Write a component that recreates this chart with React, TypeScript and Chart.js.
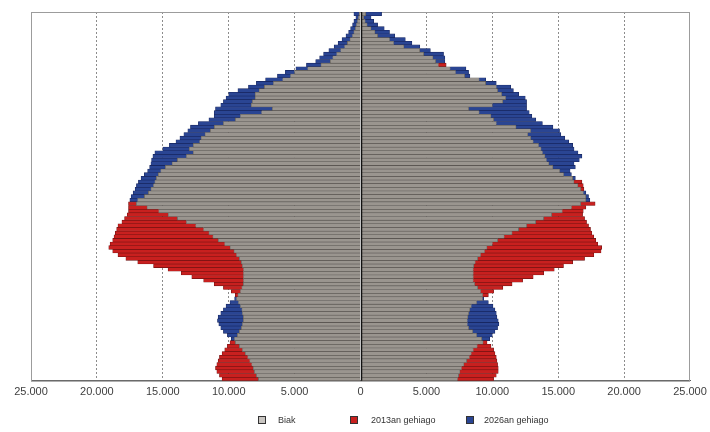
import React, { useEffect, useRef } from 'react';
import { Chart, registerables } from 'chart.js';

Chart.register(...registerables);

// Ages 0..100 (bottom to top)
const ages: string[] = Array.from({ length: 101 }, (_, i) => String(i));

const men2013 = [
  10500, 10700, 10900, 11000, 10900, 10800, 10700, 10500, 10300, 10100,
  9900, 9550, 9350, 9200, 9050, 8950, 8900, 8900, 8950, 9000,
  9100, 9250, 9400, 9500, 9800, 10400, 11100, 11900, 12800, 13600,
  14600, 15700, 16900, 17800, 18400, 18800, 19100, 19000, 18800, 18700,
  18600, 18500, 18400, 18100, 17900, 17700, 17600, 17600, 17600, 16900,
  16400, 16100, 15900, 15700, 15600, 15500, 15350, 15150, 14800, 14300,
  13900, 13200, 12700, 13000, 12700, 12200, 12100, 11800, 11400, 11100,
  10400, 9500, 9100, 7500, 6700, 8300, 8200, 8000, 8000, 7700,
  7300, 6600, 5900, 5300, 5000, 4000, 3000, 2300, 2100, 1800,
  1500, 1200, 1000, 800, 600, 500, 400, 300, 220, 150,
  100,
];

const men2026 = [
  7750, 7900, 8050, 8150, 8250, 8400, 8550, 8750, 8950, 9200,
  9500, 9800, 10100, 10400, 10600, 10750, 10850, 10800, 10600, 10400,
  10200, 9900, 9550, 9300, 9100, 9000, 8900, 8870, 8870, 8870,
  8870, 8950, 9050, 9200, 9400, 9600, 9900, 10300, 10800, 11200,
  11500, 11900, 12500, 13200, 13900, 14600, 15300, 16200, 17000, 17500,
  17400, 17250, 17100, 17000, 16850, 16650, 16400, 16150, 16000, 15900,
  15850, 15750, 15600, 15000, 14500, 14000, 13700, 13400, 13100, 12900,
  12300, 11500, 11100, 11100, 11000, 10600, 10400, 10200, 10000, 9300,
  8500, 7900, 7200, 6300, 5700, 4900, 4100, 3400, 3100, 2800,
  2400, 2000, 1700, 1400, 1100, 900, 750, 600, 500, 350,
  500,
];

const women2013 = [
  10100, 10300, 10450, 10450, 10400, 10350, 10300, 10200, 10100, 9900,
  9600, 9200, 8800, 8500, 8200, 8100, 8100, 8150, 8200, 8300,
  8400, 8800, 9250, 9700, 10100, 10800, 11500, 12300, 13100, 13900,
  14700, 15400, 16100, 17000, 17700, 18250, 18300, 18000, 17850, 17700,
  17550, 17450, 17300, 17150, 17000, 16850, 16900, 17100, 17800, 17100,
  17100, 16900, 16950, 16900, 16800, 16100, 15400, 15100, 14600, 14300,
  14100, 14000, 13800, 13700, 13500, 13100, 12900, 12700, 12900, 11800,
  10300, 10100, 9900, 9000, 8200, 10000, 10800, 11000, 10700, 10400,
  10300, 9500, 9000, 7900, 7200, 6800, 6500, 5700, 5500, 4800,
  4500, 3300, 2500, 2200, 1300, 1100, 800, 500, 350, 250,
  400,
];

const women2026 = [
  7350, 7450, 7550, 7650, 7850, 8050, 8250, 8400, 8550, 8850,
  9300, 9800, 10000, 10200, 10400, 10500, 10450, 10350, 10300, 10200,
  10050, 9700, 9350, 9250, 9100, 8900, 8650, 8550, 8550, 8550,
  8550, 8600, 8700, 8900, 9100, 9400, 9600, 10000, 10400, 10900,
  11500, 12000, 12600, 13300, 13900, 14500, 15300, 16000, 16700, 17400,
  17300, 17100, 16700, 16500, 16200, 16300, 16000, 15900, 16300, 16200,
  16600, 16800, 16500, 16200, 16100, 15800, 15500, 15200, 15100, 14600,
  13800, 13300, 13000, 12800, 12600, 12600, 12600, 12500, 12000, 11600,
  11400, 10300, 9500, 8300, 8200, 8000, 5900, 6400, 6400, 6300,
  5300, 4500, 3900, 3400, 2600, 2200, 1800, 1300, 1000, 800,
  1600,
];

const xTicksMin = -25000;
const xTicksMax = 25000;
const xTickStep = 5000;

const seriesLabels = ['Biak', '2013an gehiago', '2026an gehiago'];
const fillColors = ['#9a958f', '#c8201f', '#2a4593'];
const edgeColors = ['#55514c', '#6e1010', '#16245c'];
const legendBoxFill = ['#c9c6c2', '#c8201f', '#2a4593'];

const fmt = (v: number) =>
  String(Math.abs(v)).replace(/\B(?=(\d{3})+(?!\d))/g, '.');

export default function App() {
  const ref = useRef<HTMLCanvasElement | null>(null);

  useEffect(() => {
    if (!ref.current) return;
    const common = (a: number[], b: number[]) => a.map((v, i) => Math.min(v, b[i]));
    const excess = (a: number[], b: number[]) => a.map((v, i) => Math.max(0, v - b[i]));
    const neg = (a: number[]) => a.map((v) => -v);

    const parts = [
      [neg(common(men2013, men2026)), common(women2013, women2026)],
      [neg(excess(men2013, men2026)), excess(women2013, women2026)],
      [neg(excess(men2026, men2013)), excess(women2026, women2013)],
    ];

    const datasets: any[] = [];
    parts.forEach((pair, k) => {
      pair.forEach((data, side) => {
        datasets.push({
          label: seriesLabels[k] + (side === 1 ? ' ' : ''),
          data,
          backgroundColor: fillColors[k],
          borderColor: edgeColors[k],
          borderWidth: 0.6,
          borderSkipped: 'start',
          categoryPercentage: 1,
          barPercentage: 1,
          stack: 'pyr',
        });
      });
    });

    const framePlugin = {
      id: 'frameAndZero',
      beforeDatasetsDraw(chart: any) {
        const { ctx, chartArea: a } = chart;
        ctx.save();
        ctx.strokeStyle = '#9c9c9c';
        ctx.lineWidth = 1;
        ctx.strokeRect(a.left + 0.5, a.top + 0.5, a.right - a.left - 1, a.bottom - a.top);
        ctx.restore();
      },
      afterDatasetsDraw(chart: any) {
        const { ctx, chartArea: a, scales } = chart;
        const x0 = Math.round(scales.x.getPixelForValue(0)) + 0.5;
        ctx.save();
        ctx.strokeStyle = '#111';
        ctx.lineWidth = 1.5;
        ctx.beginPath();
        ctx.moveTo(x0, a.top);
        ctx.lineTo(x0, a.bottom);
        ctx.stroke();
        ctx.restore();
      },
    };

    const chart = new Chart(ref.current, {
      type: 'bar',
      data: { labels: ages, datasets },
      plugins: [framePlugin],
      options: {
        indexAxis: 'y',
        animation: false,
        responsive: false,
        maintainAspectRatio: false,
        layout: { padding: { left: 31, right: 20, top: 12, bottom: 28 } },
        plugins: {
          legend: { display: false },
          tooltip: { enabled: false },
        },
        scales: {
          x: {
            stacked: true,
            min: xTicksMin,
            max: xTicksMax,
            afterFit: (scale: any) => {
              scale.paddingLeft = 0;
              scale.paddingRight = 0;
            },
            ticks: {
              stepSize: xTickStep,
              autoSkip: false,
              maxRotation: 0,
              padding: 5,
              color: '#3e3e3e',
              font: { family: 'Liberation Sans', size: 11 },
              callback: (v: any) => fmt(Number(v)),
            },
            grid: {
              drawTicks: false,
              lineWidth: 1,
              color: (c: any) => {
                const v = c.tick ? c.tick.value : 0;
                return v === 0 || Math.abs(v) === 25000 ? 'rgba(0,0,0,0)' : '#8c8c8c';
              },
            },
            border: { display: true, color: '#5e5e5e', width: 1, dash: [2, 2] },
          },
          y: {
            stacked: true,
            reverse: true,
            display: false,
            grid: { display: false },
          },
        },
      },
    });
    return () => chart.destroy();
  }, []);

  const legendItems = [
    { box: 258, text: 278 },
    { box: 350, text: 371 },
    { box: 466, text: 484 },
  ];

  return (
    <div style={{ position: 'fixed', left: 0, top: 0, width: 710, height: 432, background: '#fff' }}>
      <canvas ref={ref} width={710} height={432} style={{ display: 'block' }} />
      {legendItems.map((it, i) => (
        <React.Fragment key={i}>
          <span
            style={{
              position: 'absolute',
              left: it.box,
              top: 416,
              width: 8,
              height: 8,
              background: legendBoxFill[i],
              border: '1px solid #333',
              boxSizing: 'border-box',
            }}
          />
          <span
            style={{
              position: 'absolute',
              left: it.text,
              top: 414,
              fontFamily: 'Liberation Sans, Arial, sans-serif',
              fontSize: 9,
              lineHeight: '12px',
              color: '#333',
              whiteSpace: 'nowrap',
            }}
          >
            {seriesLabels[i]}
          </span>
        </React.Fragment>
      ))}
    </div>
  );
}
